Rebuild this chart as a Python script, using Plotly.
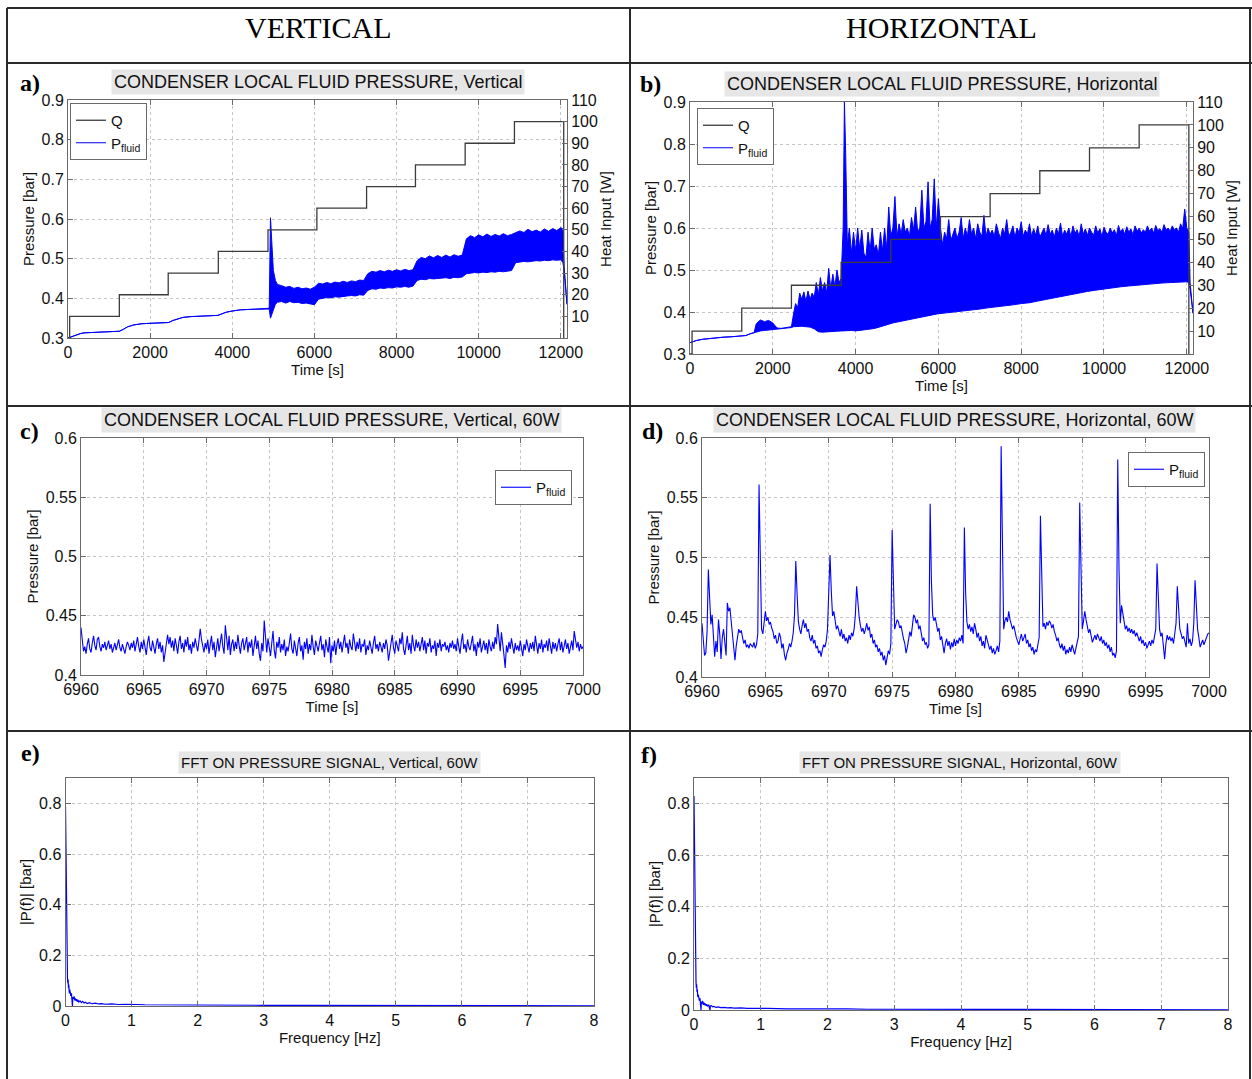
import plotly.graph_objects as go

W, H = 1252, 1079


def px(x):
    return x / W


def py(y):
    return 1 - y / H


# ---------------- DATA ----------------
# Heat input steps (Q) for panels a and b
q_time_a = [0, 40, 1250, 2440, 3660, 4870, 6060, 7270, 8460, 9670, 10870, 12070]
q_watt_a = [0, 10, 20, 30, 40, 50, 60, 70, 80, 90, 100, 0]
q_time_b = [0, 50, 1250, 2450, 3650, 4850, 6050, 7250, 8450, 9650, 10850, 12050]
q_watt_b = [0, 10, 20, 30, 40, 50, 60, 70, 80, 90, 100, 0]

# Panel a: vertical, pressure envelope (upper / lower edge of the oscillating signal)
t_a = [0, 100, 200, 300, 400, 600, 800, 1000, 1250, 1350, 1450, 1600, 1800, 2000, 2200,
       2450, 2550, 2650, 2800, 3000, 3200, 3400, 3650, 3750, 3850, 4000, 4200, 4400, 4600, 4880,
       4900, 4930, 4960, 5000, 5050,
       5100, 5200, 5300, 5400, 5500, 5600, 5700, 5800, 5900, 6000,
       6100, 6200, 6300, 6400, 6500, 6600, 6700, 6800, 6900, 7000, 7100, 7200,
       7300, 7400, 7500, 7600, 7700, 7800, 7900, 8000, 8100, 8200, 8300, 8400,
       8500, 8600, 8700, 8800, 8900, 9000, 9100, 9200, 9300, 9400, 9500, 9600,
       9700, 9800, 9900, 10000, 10100, 10200, 10300, 10400, 10500, 10600, 10700, 10800,
       10900, 11000, 11100, 11200, 11300, 11400, 11500, 11600, 11700, 11800, 11900, 12000,
       12050, 12080, 12150]
a_hi = [0.300, 0.304, 0.308, 0.311, 0.313, 0.314, 0.315, 0.316, 0.317, 0.322, 0.328, 0.333, 0.336, 0.337, 0.338,
        0.339, 0.344, 0.348, 0.352, 0.354, 0.355, 0.356, 0.357, 0.361, 0.365, 0.368, 0.371, 0.372, 0.373, 0.374,
        0.375, 0.603, 0.530, 0.470, 0.445,
        0.435, 0.432, 0.428, 0.430, 0.425, 0.428, 0.424, 0.426, 0.423, 0.428,
        0.438, 0.436, 0.440, 0.437, 0.441, 0.439, 0.443, 0.440, 0.444, 0.442, 0.446, 0.445,
        0.462, 0.468, 0.466, 0.470, 0.467, 0.471, 0.468, 0.472, 0.469, 0.473, 0.470, 0.472,
        0.495, 0.503, 0.500, 0.507, 0.502, 0.508, 0.503, 0.509, 0.504, 0.510, 0.506, 0.509,
        0.550, 0.558, 0.553, 0.560, 0.555, 0.562, 0.556, 0.561, 0.557, 0.563, 0.558, 0.561,
        0.565, 0.570, 0.566, 0.574, 0.568, 0.572, 0.567, 0.575, 0.569, 0.576, 0.571, 0.578,
        0.575, 0.480, 0.385]
a_lo = [0.300, 0.304, 0.308, 0.311, 0.313, 0.314, 0.315, 0.316, 0.317, 0.322, 0.328, 0.333, 0.336, 0.337, 0.338,
        0.339, 0.344, 0.348, 0.352, 0.354, 0.355, 0.356, 0.357, 0.361, 0.365, 0.368, 0.371, 0.372, 0.373, 0.374,
        0.373, 0.350, 0.360, 0.372, 0.385,
        0.390, 0.392, 0.388, 0.392, 0.389, 0.390, 0.387, 0.388, 0.386, 0.384,
        0.398, 0.400, 0.402, 0.401, 0.404, 0.403, 0.405, 0.406, 0.407, 0.406, 0.409, 0.408,
        0.420, 0.424, 0.423, 0.426, 0.425, 0.427, 0.426, 0.429, 0.428, 0.430, 0.428, 0.431,
        0.445, 0.448, 0.447, 0.450, 0.449, 0.450, 0.451, 0.452, 0.450, 0.453, 0.452, 0.454,
        0.462, 0.463, 0.465, 0.464, 0.466, 0.465, 0.467, 0.466, 0.468, 0.467, 0.469, 0.470,
        0.490, 0.492, 0.493, 0.492, 0.494, 0.495, 0.494, 0.496, 0.495, 0.497, 0.496, 0.497,
        0.490, 0.470, 0.385]

# Panel b: horizontal, upper envelope (fine, spiky) ...
t_b_hi = [0, 50, 150, 300, 450, 600, 800, 1000, 1250, 1350, 1450, 1550,
          1600, 1700, 1800, 1900, 2000, 2100, 2200, 2300, 2450,
          2500, 2550, 2600, 2650, 2700, 2750, 2800, 2850, 2900, 2950,
          3000, 3050, 3100, 3150, 3200, 3250, 3300, 3350, 3400, 3450,
          3500, 3550, 3600,
          3650, 3700, 3730, 3760, 3800, 3850, 3900, 3950, 4000, 4050,
          4100, 4150, 4200, 4250, 4300, 4350, 4400, 4450, 4500, 4550,
          4600, 4650, 4700, 4750, 4800, 4850, 4900, 4950, 5000, 5050,
          5100, 5150, 5200, 5250, 5300, 5350, 5400, 5450, 5500, 5550,
          5600, 5650, 5700, 5750, 5800, 5850, 5900, 5950, 6000, 6050,
          6100, 6150, 6200, 6250, 6300, 6350, 6400, 6450, 6500, 6550,
          6600, 6650, 6700, 6750, 6800, 6850, 6900, 6950, 7000, 7050,
          7100, 7150, 7200, 7250, 7300, 7350, 7400, 7450, 7500, 7550,
          7600, 7650, 7700, 7750, 7800, 7850, 7900, 7950, 8000, 8050,
          8100, 8150, 8200, 8250, 8300, 8350, 8400, 8450, 8500, 8550,
          8600, 8650, 8700, 8750, 8800, 8850, 8900, 8950, 9000, 9050,
          9100, 9150, 9200, 9250, 9300, 9350, 9400, 9450, 9500, 9550,
          9600, 9650, 9700, 9750, 9800, 9850, 9900, 9950, 10000, 10050,
          10100, 10150, 10200, 10250, 10300, 10350, 10400, 10450, 10500, 10550,
          10600, 10650, 10700, 10750, 10800, 10850, 10900, 10950, 11000, 11050,
          11100, 11150, 11200, 11250, 11300, 11350, 11400, 11450, 11500, 11550,
          11600, 11650, 11700, 11750, 11800, 11850, 11900, 11950, 12000, 12050,
          12080, 12150]
b_hi = [0.327, 0.329, 0.332, 0.335, 0.337, 0.339, 0.340, 0.341, 0.342, 0.344, 0.348, 0.351,
        0.372, 0.381, 0.377, 0.380, 0.374, 0.362, 0.361, 0.363, 0.365,
        0.395, 0.420, 0.410, 0.445, 0.430, 0.448, 0.425, 0.450, 0.430, 0.445,
        0.435, 0.470, 0.440, 0.482, 0.450, 0.470, 0.445, 0.504, 0.455, 0.490,
        0.460, 0.500, 0.470,
        0.480, 0.600, 0.900, 0.780, 0.560, 0.600, 0.540, 0.590, 0.545, 0.600,
        0.550, 0.595, 0.540, 0.530, 0.590, 0.545, 0.600, 0.550, 0.560, 0.535,
        0.590, 0.545, 0.600, 0.550, 0.650, 0.580, 0.600, 0.675, 0.580, 0.610,
        0.585, 0.620, 0.590, 0.600, 0.580, 0.625, 0.595, 0.650, 0.590, 0.600,
        0.690, 0.600, 0.615, 0.710, 0.600, 0.620, 0.717, 0.600, 0.670, 0.600,
        0.560, 0.590, 0.575, 0.620, 0.570, 0.585, 0.600, 0.575, 0.590, 0.625,
        0.575, 0.600, 0.580, 0.620, 0.585, 0.600, 0.575, 0.610, 0.590, 0.580,
        0.630, 0.580, 0.600, 0.585, 0.595, 0.580, 0.610, 0.590, 0.575, 0.600,
        0.585, 0.620, 0.580, 0.590, 0.605, 0.578, 0.600, 0.588, 0.615, 0.580,
        0.595, 0.585, 0.610, 0.580, 0.598, 0.583, 0.605, 0.578, 0.590, 0.600,
        0.582, 0.608, 0.585, 0.595, 0.578, 0.600, 0.586, 0.612, 0.580, 0.595,
        0.585, 0.600, 0.580, 0.605, 0.587, 0.596, 0.580, 0.610, 0.585, 0.598,
        0.582, 0.600, 0.590, 0.583, 0.605, 0.588, 0.598, 0.580, 0.602, 0.590,
        0.585, 0.600, 0.588, 0.596, 0.582, 0.606, 0.590, 0.598, 0.585, 0.603,
        0.590, 0.598, 0.584, 0.605, 0.592, 0.600, 0.588, 0.596, 0.590, 0.605,
        0.592, 0.600, 0.588, 0.606, 0.594, 0.598, 0.590, 0.608, 0.595, 0.600,
        0.592, 0.605, 0.596, 0.600, 0.590, 0.610, 0.598, 0.645, 0.600, 0.590,
        0.470, 0.397]
# ... and lower envelope (coarse)
t_b_lo = [0, 50, 150, 300, 450, 600, 800, 1000, 1250, 1350, 1450, 1550,
          1600, 1700, 1800, 1900, 2000, 2100, 2200, 2300, 2450,
          2500, 2600, 2700, 2800, 2900, 3000, 3100, 3200, 3300, 3400, 3500, 3600, 3650,
          3700, 3800, 3900, 4000, 4100, 4200, 4300, 4400, 4500, 4600, 4700, 4800,
          4900, 5000, 5200, 5400, 5600, 5800, 6000, 6200, 6400, 6600, 6800, 7000,
          7200, 7400, 7600, 7800, 8000, 8200, 8400, 8600, 8800, 9000, 9200, 9400,
          9600, 9800, 10000, 10200, 10400, 10600, 10800, 11000, 11200, 11400, 11600,
          11800, 12000, 12050, 12080, 12150]
b_lo = [0.327, 0.329, 0.332, 0.335, 0.337, 0.339, 0.340, 0.341, 0.342, 0.344, 0.348, 0.351,
        0.353, 0.355, 0.356, 0.357, 0.358, 0.359, 0.360, 0.361, 0.363,
        0.365, 0.366, 0.366, 0.365, 0.364, 0.360, 0.353, 0.352, 0.353, 0.353, 0.354, 0.355, 0.355,
        0.355, 0.356, 0.356, 0.355, 0.356, 0.357, 0.358, 0.360, 0.362, 0.365, 0.368, 0.372,
        0.374, 0.376, 0.380, 0.384, 0.388, 0.392, 0.396, 0.398, 0.400, 0.403, 0.405, 0.407,
        0.410, 0.412, 0.414, 0.417, 0.420, 0.422, 0.426, 0.430, 0.434, 0.438, 0.441, 0.445,
        0.449, 0.452, 0.455, 0.457, 0.460, 0.462, 0.464, 0.466, 0.468, 0.469, 0.470,
        0.471, 0.472, 0.470, 0.455, 0.397]

# Panels c and d: 60 W window, sampled every 0.1 s from 6960 s
t0_cd = 6960.0
dt_cd = 0.1
p_c = [
    0.440, 0.428, 0.420, 0.424, 0.418, 0.426, 0.431, 0.422, 0.419, 0.427,
    0.433, 0.425, 0.421, 0.430, 0.432, 0.424, 0.420, 0.426, 0.423, 0.428,
    0.421, 0.425, 0.429, 0.422, 0.426, 0.419, 0.424, 0.427, 0.421, 0.425,
    0.430, 0.423, 0.420, 0.426, 0.422, 0.418, 0.424, 0.428, 0.425, 0.421,
    0.427, 0.423, 0.429, 0.420, 0.426, 0.432, 0.424, 0.419, 0.428, 0.422,
    0.430, 0.425, 0.417, 0.427, 0.433, 0.423, 0.420, 0.429, 0.424, 0.418,
    0.426, 0.431, 0.422, 0.428, 0.419, 0.425, 0.411, 0.420, 0.427, 0.434,
    0.426, 0.432, 0.423, 0.429, 0.420, 0.431, 0.425, 0.418, 0.428, 0.433,
    0.422, 0.427, 0.419, 0.430, 0.424, 0.432, 0.421, 0.426, 0.418, 0.428,
    0.423, 0.431, 0.425, 0.420, 0.429, 0.439, 0.430, 0.424, 0.419, 0.427,
    0.422, 0.430, 0.418, 0.426, 0.433, 0.421, 0.428, 0.415, 0.424, 0.431,
    0.420, 0.427, 0.435, 0.424, 0.418, 0.442, 0.429, 0.421, 0.433, 0.417,
    0.426, 0.430, 0.420, 0.428, 0.422, 0.434, 0.425, 0.418, 0.427, 0.431,
    0.421, 0.426, 0.432, 0.419, 0.428, 0.423, 0.430, 0.416, 0.425, 0.433,
    0.422, 0.429, 0.418, 0.412, 0.427, 0.420, 0.446, 0.428, 0.419, 0.431,
    0.424, 0.416, 0.427, 0.437, 0.421, 0.414, 0.428, 0.423, 0.432, 0.419,
    0.426, 0.421, 0.430, 0.416, 0.424, 0.420, 0.427, 0.435, 0.422, 0.418,
    0.429, 0.423, 0.416, 0.427, 0.432, 0.420, 0.425, 0.413, 0.428, 0.422,
    0.431, 0.418, 0.426, 0.421, 0.434, 0.424, 0.417, 0.429, 0.423, 0.420,
    0.427, 0.433, 0.421, 0.426, 0.415, 0.430, 0.424, 0.419, 0.432, 0.410,
    0.425, 0.420, 0.429, 0.417, 0.426, 0.431, 0.422, 0.428, 0.419, 0.425,
    0.434, 0.423, 0.427, 0.418, 0.430, 0.424, 0.421, 0.435, 0.426, 0.420,
    0.428, 0.422, 0.431, 0.419, 0.426, 0.424, 0.430, 0.417, 0.425, 0.421,
    0.429, 0.423, 0.418, 0.427, 0.433, 0.422, 0.426, 0.420, 0.428, 0.424,
    0.419, 0.427, 0.422, 0.430, 0.425, 0.412, 0.421, 0.428, 0.434, 0.423,
    0.418, 0.429, 0.424, 0.420, 0.431, 0.426, 0.436, 0.422, 0.417, 0.428,
    0.433, 0.421, 0.427, 0.418, 0.434, 0.425, 0.420, 0.430, 0.423, 0.428,
    0.420, 0.426, 0.432, 0.421, 0.429, 0.418, 0.427, 0.424, 0.431, 0.419,
    0.425, 0.422, 0.429, 0.416, 0.427, 0.423, 0.430, 0.420, 0.426, 0.424,
    0.428, 0.421, 0.425, 0.419, 0.427, 0.423, 0.429, 0.422, 0.426, 0.420,
    0.431, 0.424, 0.418, 0.428, 0.435, 0.422, 0.426, 0.419, 0.430, 0.424,
    0.421, 0.427, 0.433, 0.420, 0.426, 0.416, 0.428, 0.423, 0.431, 0.419,
    0.425, 0.429, 0.421, 0.427, 0.418, 0.430, 0.424, 0.420, 0.428, 0.422,
    0.432, 0.426, 0.443, 0.429, 0.420, 0.436, 0.423, 0.417, 0.406, 0.425,
    0.419, 0.428, 0.422, 0.431, 0.424, 0.418, 0.427, 0.421, 0.425, 0.420,
    0.429, 0.423, 0.416, 0.426, 0.421, 0.430, 0.424, 0.419, 0.427, 0.422,
    0.428, 0.420, 0.433, 0.424, 0.418, 0.427, 0.422, 0.430, 0.419, 0.426,
    0.423, 0.429, 0.420, 0.431, 0.425, 0.418, 0.428, 0.422, 0.427, 0.420,
    0.426, 0.431, 0.421, 0.428, 0.419, 0.425, 0.430, 0.422, 0.427, 0.418,
    0.424, 0.429, 0.421, 0.437, 0.430, 0.423, 0.428, 0.420, 0.426, 0.422,
    0.424]
p_d = [
    0.445, 0.432, 0.418, 0.420, 0.438, 0.490, 0.462, 0.444, 0.452, 0.428,
    0.417, 0.430, 0.421, 0.448, 0.436, 0.415, 0.433, 0.440, 0.425, 0.418,
    0.462, 0.455, 0.458, 0.447, 0.432, 0.421, 0.414, 0.426, 0.433, 0.440,
    0.437, 0.439, 0.433, 0.428, 0.431, 0.425, 0.427, 0.424, 0.428, 0.426,
    0.425, 0.429, 0.424, 0.427, 0.436, 0.561, 0.482, 0.440, 0.436, 0.448,
    0.455, 0.447, 0.450, 0.444, 0.446, 0.441, 0.438, 0.432, 0.435, 0.428,
    0.430, 0.437, 0.433, 0.424, 0.428, 0.419, 0.414, 0.420, 0.423, 0.428,
    0.425, 0.430, 0.437, 0.452, 0.497, 0.470, 0.447, 0.440, 0.436, 0.443,
    0.448, 0.441, 0.445, 0.438, 0.440, 0.433, 0.430, 0.435, 0.428, 0.431,
    0.424, 0.426, 0.420, 0.422, 0.417, 0.423, 0.427, 0.425, 0.430, 0.440,
    0.465, 0.502, 0.472, 0.451, 0.455, 0.446, 0.440, 0.443, 0.437, 0.434,
    0.440, 0.432, 0.436, 0.430, 0.433, 0.428, 0.435, 0.431, 0.437, 0.434,
    0.440, 0.452, 0.476, 0.460, 0.450, 0.443, 0.438, 0.441, 0.436, 0.440,
    0.445, 0.439, 0.442, 0.433, 0.436, 0.428, 0.431, 0.425, 0.427, 0.421,
    0.424, 0.418, 0.421, 0.414, 0.418, 0.410, 0.416, 0.422, 0.419, 0.428,
    0.523, 0.470, 0.440, 0.444, 0.448, 0.446, 0.441, 0.443, 0.436, 0.432,
    0.428, 0.420, 0.425, 0.433, 0.438, 0.434, 0.446, 0.452, 0.450, 0.445,
    0.448, 0.440, 0.443, 0.436, 0.430, 0.433, 0.427, 0.429, 0.424, 0.427,
    0.545, 0.480, 0.452, 0.447, 0.450, 0.444, 0.438, 0.441, 0.431, 0.434,
    0.425, 0.420, 0.428, 0.432, 0.426, 0.430, 0.423, 0.429, 0.425, 0.432,
    0.426, 0.431, 0.428, 0.433, 0.430, 0.435, 0.428, 0.525, 0.470, 0.446,
    0.440, 0.444, 0.438, 0.442, 0.436, 0.445, 0.440, 0.433, 0.437, 0.430,
    0.434, 0.426, 0.430, 0.424, 0.435, 0.431, 0.428, 0.423, 0.426, 0.420,
    0.424, 0.419, 0.422, 0.426, 0.421, 0.430, 0.593, 0.500, 0.440, 0.447,
    0.450, 0.446, 0.455, 0.448, 0.444, 0.440, 0.443, 0.437, 0.433, 0.430,
    0.427, 0.432, 0.436, 0.430, 0.434, 0.436, 0.428, 0.431, 0.425, 0.428,
    0.422, 0.425, 0.419, 0.423, 0.421, 0.427, 0.433, 0.535, 0.470, 0.442,
    0.445, 0.440, 0.446, 0.443, 0.447, 0.445, 0.441, 0.444, 0.438, 0.435,
    0.430, 0.433, 0.427, 0.424, 0.428, 0.422, 0.426, 0.419, 0.423, 0.420,
    0.425, 0.421, 0.427, 0.423, 0.419, 0.424, 0.428, 0.434, 0.546, 0.475,
    0.440, 0.447, 0.455, 0.448, 0.442, 0.437, 0.440, 0.433, 0.429, 0.432,
    0.435, 0.431, 0.436, 0.433, 0.430, 0.434, 0.428, 0.431, 0.426, 0.429,
    0.424, 0.427, 0.421, 0.425, 0.418, 0.420, 0.416, 0.422, 0.582, 0.490,
    0.445, 0.460, 0.452, 0.446, 0.440, 0.443, 0.438, 0.441, 0.437, 0.440,
    0.436, 0.439, 0.434, 0.437, 0.433, 0.430, 0.434, 0.428, 0.431, 0.426,
    0.429, 0.424, 0.427, 0.430, 0.426, 0.431, 0.428, 0.433, 0.440, 0.495,
    0.460, 0.440, 0.434, 0.437, 0.426, 0.415, 0.428, 0.435, 0.431, 0.434,
    0.430, 0.433, 0.428, 0.436, 0.445, 0.476, 0.455, 0.440, 0.436, 0.432,
    0.434, 0.430, 0.425, 0.445, 0.428, 0.432, 0.426, 0.430, 0.445, 0.481,
    0.455, 0.440, 0.433, 0.425, 0.428, 0.431, 0.427, 0.430, 0.433, 0.436,
    0.437]

# Panels e and f: FFT magnitude
f_e = [0, 0.005, 0.01, 0.015, 0.02, 0.025, 0.03, 0.035, 0.04, 0.045, 0.05, 0.055, 0.06, 0.065, 0.07,
       0.075, 0.08, 0.09, 0.1, 0.105, 0.11, 0.12, 0.13, 0.14, 0.15, 0.16, 0.17, 0.18, 0.19, 0.2,
       0.22, 0.24, 0.26, 0.28, 0.3, 0.33, 0.36, 0.4, 0.45, 0.5, 0.55, 0.6, 0.7, 0.8, 0.9, 1.0,
       1.1, 1.2, 1.4, 1.6, 1.8, 2.0, 2.3, 2.6, 3.0, 3.5, 4.0, 4.2, 5.0, 6.0, 7.0, 8.0]
m_e = [0.79, 0.62, 0.47, 0.34, 0.22, 0.15, 0.11, 0.09, 0.105, 0.07, 0.085, 0.06, 0.05, 0.065, 0.045,
       0.055, 0.04, 0.05, 0.03, 0.0, 0.035, 0.028, 0.038, 0.022, 0.03, 0.02, 0.027, 0.017, 0.024, 0.016,
       0.02, 0.013, 0.018, 0.012, 0.015, 0.01, 0.013, 0.009, 0.011, 0.008, 0.009, 0.007, 0.008, 0.006, 0.007, 0.005,
       0.006, 0.005, 0.0045, 0.004, 0.0045, 0.0035, 0.004, 0.003, 0.0028, 0.0025, 0.002, 0.0022, 0.0015, 0.0012, 0.001, 0.001]
f_f = [0, 0.005, 0.01, 0.015, 0.02, 0.025, 0.03, 0.035, 0.04, 0.045, 0.05, 0.055, 0.06, 0.065, 0.07,
       0.075, 0.08, 0.09, 0.1, 0.105, 0.11, 0.12, 0.13, 0.14, 0.15, 0.16, 0.17, 0.18, 0.19, 0.2,
       0.22, 0.24, 0.245, 0.26, 0.28, 0.3, 0.33, 0.36, 0.4, 0.45, 0.5, 0.55, 0.6, 0.7, 0.8, 0.9, 1.0,
       1.1, 1.2, 1.4, 1.6, 1.8, 2.0, 2.3, 2.6, 3.0, 3.5, 4.0, 4.2, 5.0, 6.0, 7.0, 8.0]
m_f = [0.83, 0.64, 0.48, 0.33, 0.21, 0.14, 0.11, 0.085, 0.10, 0.07, 0.08, 0.055, 0.05, 0.06, 0.04,
       0.05, 0.036, 0.045, 0.028, 0.0, 0.032, 0.025, 0.035, 0.02, 0.028, 0.019, 0.025, 0.016, 0.022, 0.015,
       0.019, 0.0, 0.016, 0.017, 0.012, 0.014, 0.01, 0.012, 0.009, 0.01, 0.008, 0.009, 0.007, 0.008, 0.006, 0.007, 0.006,
       0.006, 0.005, 0.0045, 0.004, 0.0045, 0.0035, 0.004, 0.003, 0.0028, 0.0025, 0.002, 0.0022, 0.0015, 0.0012, 0.001, 0.001]

# ---------------- STYLE ----------------
SANS = "Liberation Sans, Arial, sans-serif"
SERIF = "Liberation Serif, Times New Roman, serif"
BLUE = "#0000ff"
QCOL = "#3c3c3c"
AXC = "#6a6a6a"
GRID = "#c4c4c4"
TXT = "#111111"

fig = go.Figure()

# Panel a
fig.add_trace(go.Scatter(x=q_time_a, y=q_watt_a, mode="lines", name="Q",
                         line=dict(color=QCOL, width=1.3, shape="hv"),
                         xaxis="x", yaxis="y2", legend="legend"))
fig.add_trace(go.Scatter(x=t_a, y=a_hi, mode="lines", name="P<sub>fluid</sub>",
                         line=dict(color=BLUE, width=1), xaxis="x", yaxis="y", legend="legend"))
fig.add_trace(go.Scatter(x=t_a, y=a_lo, mode="lines", showlegend=False, fill="tonexty",
                         fillcolor=BLUE, line=dict(color=BLUE, width=1), xaxis="x", yaxis="y"))

# Panel b
fig.add_trace(go.Scatter(x=q_time_b, y=q_watt_b, mode="lines", name="Q",
                         line=dict(color=QCOL, width=1.3, shape="hv"),
                         xaxis="x2", yaxis="y4", legend="legend2"))
fig.add_trace(go.Scatter(x=t_b_hi, y=b_hi, mode="lines", name="P<sub>fluid</sub>",
                         line=dict(color=BLUE, width=1), xaxis="x2", yaxis="y3", legend="legend2"))
fig.add_trace(go.Scatter(x=t_b_lo, y=b_lo, mode="lines", showlegend=False, fill="tonexty",
                         fillcolor=BLUE, line=dict(color=BLUE, width=1), xaxis="x2", yaxis="y3"))

# Panel c
fig.add_trace(go.Scatter(y=p_c, x0=t0_cd, dx=dt_cd, mode="lines", name="P<sub>fluid</sub>",
                         line=dict(color=BLUE, width=1.1), xaxis="x3", yaxis="y5", legend="legend3"))
# Panel d
fig.add_trace(go.Scatter(y=p_d, x0=t0_cd, dx=dt_cd, mode="lines", name="P<sub>fluid</sub>",
                         line=dict(color=BLUE, width=1.1), xaxis="x4", yaxis="y6", legend="legend4"))
# Panel e
fig.add_trace(go.Scatter(x=f_e, y=m_e, mode="lines", showlegend=False,
                         line=dict(color=BLUE, width=1.2), xaxis="x5", yaxis="y7"))
# Panel f
fig.add_trace(go.Scatter(x=f_f, y=m_f, mode="lines", showlegend=False,
                         line=dict(color=BLUE, width=1.2), xaxis="x6", yaxis="y8"))


def axis(**kw):
    d = dict(showline=True, linecolor=AXC, linewidth=1, ticks="inside", ticklen=5,
             tickcolor=AXC, showgrid=True, gridcolor=GRID, griddash="dot", gridwidth=1,
             zeroline=False, tickfont=dict(size=16, color=TXT, family=SANS),
             title_font=dict(size=15, color=TXT, family=SANS), fixedrange=True,
             automargin=False)
    d.update(kw)
    return d


layout = dict(
    width=W, height=H, margin=dict(l=0, r=0, t=0, b=0, pad=0, autoexpand=False),
    paper_bgcolor="white", plot_bgcolor="white",
    font=dict(family=SANS, color=TXT),
    showlegend=True,
    # a
    xaxis=axis(domain=[px(68), px(567)], anchor="y", range=[0, 12150], dtick=2000,
               tickformat="d", mirror="ticks", title=dict(text="Time [s]", standoff=1)),
    yaxis=axis(domain=[py(338), py(100)], anchor="x", range=[0.3, 0.9], dtick=0.1,
               tickformat="~g", title=dict(text="Pressure [bar]", standoff=3)),
    yaxis2=axis(domain=[py(338), py(100)], anchor="x", overlaying="y", side="right",
                range=[0, 110], tickvals=[10, 20, 30, 40, 50, 60, 70, 80, 90, 100, 110],
                showgrid=False, title=dict(text="Heat Input [W]", standoff=3)),
    # b
    xaxis2=axis(domain=[px(690), px(1193)], anchor="y3", range=[0, 12150], dtick=2000,
                tickformat="d", mirror="ticks", title=dict(text="Time [s]", standoff=1)),
    yaxis3=axis(domain=[py(354), py(102)], anchor="x2", range=[0.3, 0.9], dtick=0.1,
                tickformat="~g", title=dict(text="Pressure [bar]", standoff=3)),
    yaxis4=axis(domain=[py(354), py(102)], anchor="x2", overlaying="y3", side="right",
                range=[0, 110], tickvals=[10, 20, 30, 40, 50, 60, 70, 80, 90, 100, 110],
                showgrid=False, title=dict(text="Heat Input [W]", standoff=3)),
    # c
    xaxis3=axis(domain=[px(81), px(583)], anchor="y5", range=[6960, 7000], dtick=5,
                tickformat="d", mirror="ticks", title=dict(text="Time [s]", standoff=1)),
    yaxis5=axis(domain=[py(675), py(438)], anchor="x3", range=[0.4, 0.6], dtick=0.05,
                tickformat="~g", mirror="ticks", title=dict(text="Pressure [bar]", standoff=3)),
    # d
    xaxis4=axis(domain=[px(702), px(1209)], anchor="y6", range=[6960, 7000], dtick=5,
                tickformat="d", mirror="ticks", title=dict(text="Time [s]", standoff=1)),
    yaxis6=axis(domain=[py(677), py(438)], anchor="x4", range=[0.4, 0.6], dtick=0.05,
                tickformat="~g", mirror="ticks", title=dict(text="Pressure [bar]", standoff=3)),
    # e
    xaxis5=axis(domain=[px(65.5), px(594)], anchor="y7", range=[0, 8], dtick=1,
                tickformat="d", mirror="ticks", title=dict(text="Frequency [Hz]", standoff=1)),
    yaxis7=axis(domain=[py(1006), py(778)], anchor="x5", range=[0, 0.9],
                tickvals=[0, 0.2, 0.4, 0.6, 0.8], tickformat="~g", mirror="ticks",
                title=dict(text="|P(f)| [bar]", standoff=3)),
    # f
    xaxis6=axis(domain=[px(694), px(1228)], anchor="y8", range=[0, 8], dtick=1,
                tickformat="d", mirror="ticks", title=dict(text="Frequency [Hz]", standoff=1)),
    yaxis8=axis(domain=[py(1010), py(778)], anchor="x6", range=[0, 0.9],
                tickvals=[0, 0.2, 0.4, 0.6, 0.8], tickformat="~g", mirror="ticks",
                title=dict(text="|P(f)| [bar]", standoff=3)),
)

leg_common = dict(bgcolor="white", bordercolor=AXC, borderwidth=1,
                  font=dict(size=15, family=SANS, color=TXT), tracegroupgap=0,
                  itemwidth=30, traceorder="normal")
layout["legend"] = dict(leg_common, x=px(70), y=py(103), xanchor="left", yanchor="top")
layout["legend2"] = dict(leg_common, x=px(697), y=py(108), xanchor="left", yanchor="top")
layout["legend3"] = dict(leg_common, x=px(572), y=py(470), xanchor="right", yanchor="top")
layout["legend4"] = dict(leg_common, x=px(1205), y=py(452), xanchor="right", yanchor="top")

fig.update_layout(**layout)

# Annotations: header, panel labels, grey-backed titles
ann = []
ann.append(dict(text="VERTICAL", x=px(318), y=py(28), font=dict(family=SERIF, size=30, color="#000")))
ann.append(dict(text="HORIZONTAL", x=px(942), y=py(28), font=dict(family=SERIF, size=30, color="#000")))
for lab, (lx, ly) in {"a)": (30, 83), "b)": (650, 84), "c)": (29, 431),
                      "d)": (652, 431), "e)": (30, 753), "f)": (649, 755)}.items():
    ann.append(dict(text="<b>%s</b>" % lab, x=px(lx), y=py(ly),
                    font=dict(family=SERIF, size=24, color="#000")))
titles = [
    ("CONDENSER LOCAL FLUID PRESSURE, Vertical", 318, 82, 18),
    ("CONDENSER LOCAL FLUID PRESSURE, Horizontal", 942, 84, 18),
    ("CONDENSER LOCAL FLUID PRESSURE, Vertical, 60W", 331, 420, 18),
    ("CONDENSER LOCAL FLUID PRESSURE, Horizontal, 60W", 954, 420, 18),
    ("FFT ON PRESSURE SIGNAL, Vertical, 60W", 329, 762, 15),
    ("FFT ON PRESSURE SIGNAL, Horizontal, 60W", 960, 762, 15),
]
for txt, tx, ty, fs in titles:
    ann.append(dict(text=txt, x=px(tx), y=py(ty), bgcolor="#e6e6e6", borderpad=2,
                    font=dict(family=SANS, size=fs, color=TXT)))
for a in ann:
    a.update(xref="paper", yref="paper", showarrow=False, xanchor="center", yanchor="middle")
fig.update_layout(annotations=ann)

# Table grid lines
LC = "#2a2a2a"
shapes = []
for (x0, y0, x1, y1) in [(7, 8, 1252, 8), (7, 63, 1252, 63), (7, 406, 1252, 406),
                         (7, 731, 1252, 731), (7, 8, 7, 1079), (630, 8, 630, 1079),
                         (1250, 8, 1250, 1079)]:
    shapes.append(dict(type="line", xref="paper", yref="paper", x0=px(x0), y0=py(y0),
                       x1=px(x1), y1=py(y1), line=dict(color=LC, width=2)))
fig.update_layout(shapes=shapes)

fig.write_html(
    "out.html",
    config={"displayModeBar": False},
    post_script="document.body.style.margin='0';document.body.style.overflow='hidden';"
                "document.documentElement.style.overflow='hidden';",
)
